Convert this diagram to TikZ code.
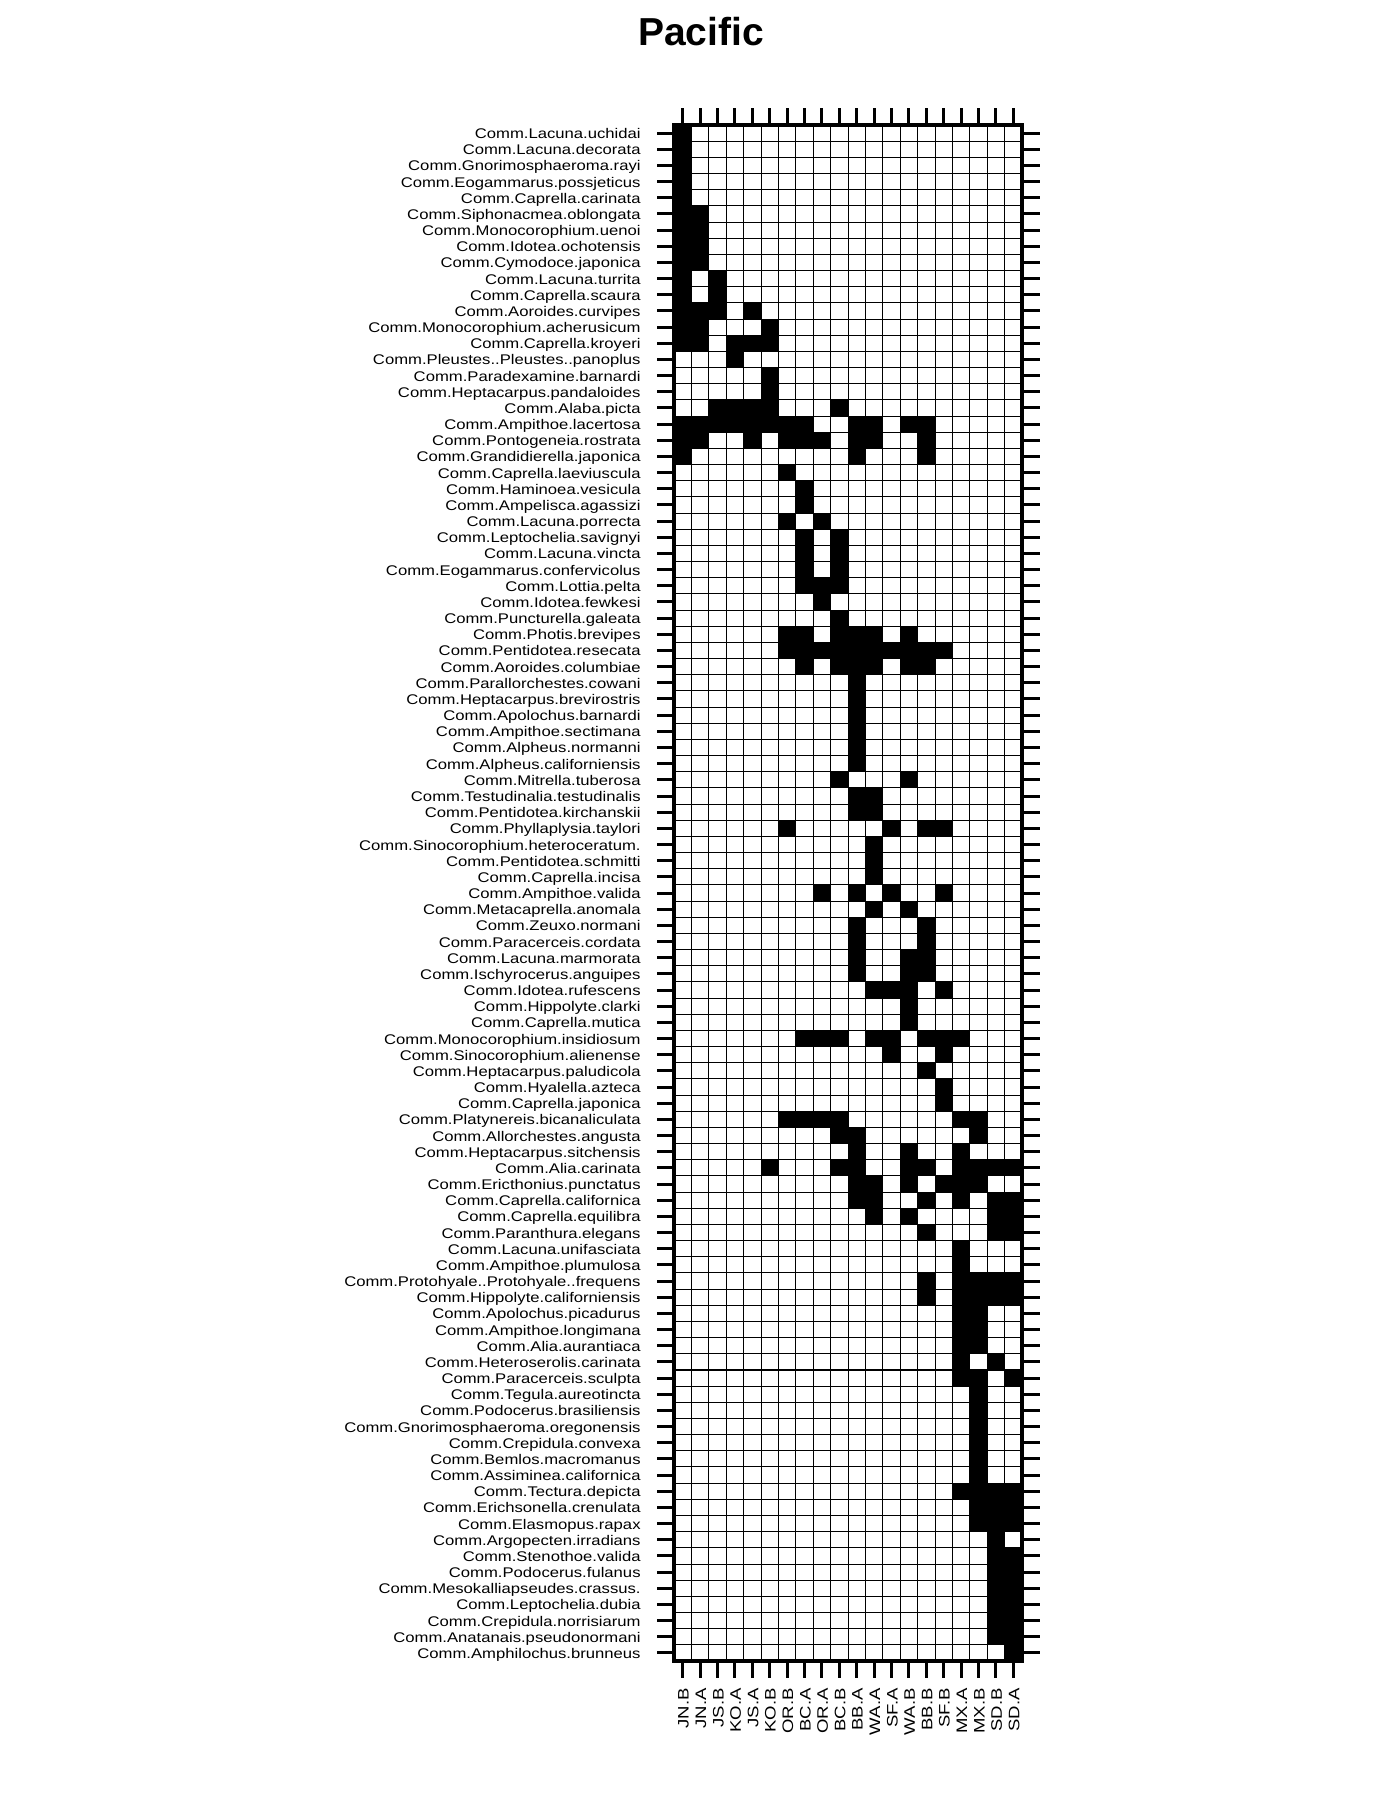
\documentclass[tikz,border=0pt]{standalone}
\usepackage{fontspec}
\setmainfont{Liberation Sans}
\newfontfamily\labfont[FakeStretch=1.19]{Liberation Sans}
\newfontfamily\collabfont[FakeStretch=1.22]{Liberation Sans}
\newcommand\sprow[3]{%
  \node[rowlab] (lab#1) at (641,{125+(#1-0.5)*16.1684+5.5}) {#2};
  \foreach \c in {#3}{\fill[black] ({674+(\c-1)*17.4},{125+(#1-1)*16.1684}) rectangle ++(17.4,16.1684);}%
}
\newcommand\spcol[2]{%
  \node[collab] (col#1) at ({674+(#1-0.5)*17.4+6},1688) {#2};
}
\begin{document}
\begin{tikzpicture}[x=0.5pt,y=-0.5pt,
  rowlab/.style={anchor=base east,inner sep=0pt,font=\labfont\fontsize{7}{8}\selectfont},
  collab/.style={anchor=base east,rotate=90,inner sep=0pt,font=\collabfont\fontsize{7.6}{8}\selectfont},
  gridline/.style={line width=0.5pt,black},
  frameline/.style={line width=1.6pt,black},
  tickline/.style={line width=1.5pt,black}]
\fill[white] (0,0) rectangle (1400,1800);
\useasboundingbox (0,0) rectangle (1400,1800);
\node[anchor=base,inner sep=0pt,font=\fontsize{19.5}{23}\selectfont\bfseries] (title) at (701,45) {Pacific};
\sprow{1}{Comm.Lacuna.uchidai}{1}
\sprow{2}{Comm.Lacuna.decorata}{1}
\sprow{3}{Comm.Gnorimosphaeroma.rayi}{1}
\sprow{4}{Comm.Eogammarus.possjeticus}{1}
\sprow{5}{Comm.Caprella.carinata}{1}
\sprow{6}{Comm.Siphonacmea.oblongata}{1,2}
\sprow{7}{Comm.Monocorophium.uenoi}{1,2}
\sprow{8}{Comm.Idotea.ochotensis}{1,2}
\sprow{9}{Comm.Cymodoce.japonica}{1,2}
\sprow{10}{Comm.Lacuna.turrita}{1,3}
\sprow{11}{Comm.Caprella.scaura}{1,3}
\sprow{12}{Comm.Aoroides.curvipes}{1,2,3,5}
\sprow{13}{Comm.Monocorophium.acherusicum}{1,2,6}
\sprow{14}{Comm.Caprella.kroyeri}{1,2,4,5,6}
\sprow{15}{Comm.Pleustes..Pleustes..panoplus}{4}
\sprow{16}{Comm.Paradexamine.barnardi}{6}
\sprow{17}{Comm.Heptacarpus.pandaloides}{6}
\sprow{18}{Comm.Alaba.picta}{3,4,5,6,10}
\sprow{19}{Comm.Ampithoe.lacertosa}{1,2,3,4,5,6,7,8,11,12,14,15}
\sprow{20}{Comm.Pontogeneia.rostrata}{1,2,5,7,8,9,11,12,15}
\sprow{21}{Comm.Grandidierella.japonica}{1,11,15}
\sprow{22}{Comm.Caprella.laeviuscula}{7}
\sprow{23}{Comm.Haminoea.vesicula}{8}
\sprow{24}{Comm.Ampelisca.agassizi}{8}
\sprow{25}{Comm.Lacuna.porrecta}{7,9}
\sprow{26}{Comm.Leptochelia.savignyi}{8,10}
\sprow{27}{Comm.Lacuna.vincta}{8,10}
\sprow{28}{Comm.Eogammarus.confervicolus}{8,10}
\sprow{29}{Comm.Lottia.pelta}{8,9,10}
\sprow{30}{Comm.Idotea.fewkesi}{9}
\sprow{31}{Comm.Puncturella.galeata}{10}
\sprow{32}{Comm.Photis.brevipes}{7,8,10,11,12,14}
\sprow{33}{Comm.Pentidotea.resecata}{7,8,9,10,11,12,13,14,15,16}
\sprow{34}{Comm.Aoroides.columbiae}{8,10,11,12,14,15}
\sprow{35}{Comm.Parallorchestes.cowani}{11}
\sprow{36}{Comm.Heptacarpus.brevirostris}{11}
\sprow{37}{Comm.Apolochus.barnardi}{11}
\sprow{38}{Comm.Ampithoe.sectimana}{11}
\sprow{39}{Comm.Alpheus.normanni}{11}
\sprow{40}{Comm.Alpheus.californiensis}{11}
\sprow{41}{Comm.Mitrella.tuberosa}{10,14}
\sprow{42}{Comm.Testudinalia.testudinalis}{11,12}
\sprow{43}{Comm.Pentidotea.kirchanskii}{11,12}
\sprow{44}{Comm.Phyllaplysia.taylori}{7,13,15,16}
\sprow{45}{Comm.Sinocorophium.heteroceratum.}{12}
\sprow{46}{Comm.Pentidotea.schmitti}{12}
\sprow{47}{Comm.Caprella.incisa}{12}
\sprow{48}{Comm.Ampithoe.valida}{9,11,13,16}
\sprow{49}{Comm.Metacaprella.anomala}{12,14}
\sprow{50}{Comm.Zeuxo.normani}{11,15}
\sprow{51}{Comm.Paracerceis.cordata}{11,15}
\sprow{52}{Comm.Lacuna.marmorata}{11,14,15}
\sprow{53}{Comm.Ischyrocerus.anguipes}{11,14,15}
\sprow{54}{Comm.Idotea.rufescens}{12,13,14,16}
\sprow{55}{Comm.Hippolyte.clarki}{14}
\sprow{56}{Comm.Caprella.mutica}{14}
\sprow{57}{Comm.Monocorophium.insidiosum}{8,9,10,12,13,15,16,17}
\sprow{58}{Comm.Sinocorophium.alienense}{13,16}
\sprow{59}{Comm.Heptacarpus.paludicola}{15}
\sprow{60}{Comm.Hyalella.azteca}{16}
\sprow{61}{Comm.Caprella.japonica}{16}
\sprow{62}{Comm.Platynereis.bicanaliculata}{7,8,9,10,17,18}
\sprow{63}{Comm.Allorchestes.angusta}{10,11,18}
\sprow{64}{Comm.Heptacarpus.sitchensis}{11,14,17}
\sprow{65}{Comm.Alia.carinata}{6,10,11,14,15,17,18,19,20}
\sprow{66}{Comm.Ericthonius.punctatus}{11,12,14,16,17,18}
\sprow{67}{Comm.Caprella.californica}{11,12,15,17,19,20}
\sprow{68}{Comm.Caprella.equilibra}{12,14,19,20}
\sprow{69}{Comm.Paranthura.elegans}{15,19,20}
\sprow{70}{Comm.Lacuna.unifasciata}{17}
\sprow{71}{Comm.Ampithoe.plumulosa}{17}
\sprow{72}{Comm.Protohyale..Protohyale..frequens}{15,17,18,19,20}
\sprow{73}{Comm.Hippolyte.californiensis}{15,17,18,19,20}
\sprow{74}{Comm.Apolochus.picadurus}{17,18}
\sprow{75}{Comm.Ampithoe.longimana}{17,18}
\sprow{76}{Comm.Alia.aurantiaca}{17,18}
\sprow{77}{Comm.Heteroserolis.carinata}{17,19}
\sprow{78}{Comm.Paracerceis.sculpta}{17,18,20}
\sprow{79}{Comm.Tegula.aureotincta}{18}
\sprow{80}{Comm.Podocerus.brasiliensis}{18}
\sprow{81}{Comm.Gnorimosphaeroma.oregonensis}{18}
\sprow{82}{Comm.Crepidula.convexa}{18}
\sprow{83}{Comm.Bemlos.macromanus}{18}
\sprow{84}{Comm.Assiminea.californica}{18}
\sprow{85}{Comm.Tectura.depicta}{17,18,19,20}
\sprow{86}{Comm.Erichsonella.crenulata}{18,19,20}
\sprow{87}{Comm.Elasmopus.rapax}{18,19,20}
\sprow{88}{Comm.Argopecten.irradians}{19}
\sprow{89}{Comm.Stenothoe.valida}{19,20}
\sprow{90}{Comm.Podocerus.fulanus}{19,20}
\sprow{91}{Comm.Mesokalliapseudes.crassus.}{19,20}
\sprow{92}{Comm.Leptochelia.dubia}{19,20}
\sprow{93}{Comm.Crepidula.norrisiarum}{19,20}
\sprow{94}{Comm.Anatanais.pseudonormani}{19,20}
\sprow{95}{Comm.Amphilochus.brunneus}{20}
% grid
\foreach \c in {1,...,19}{\draw[gridline] ({674+\c*17.4},125) -- ({674+\c*17.4},1661);}
\foreach \r in {1,...,94}{\draw[gridline] (674,{125+\r*16.1684}) -- (1022,{125+\r*16.1684});}
\draw[line width=1.1pt] (674,{125+77*16.1684}) -- (1022,{125+77*16.1684});
% frame
\draw[frameline] (674,125) rectangle (1022,1661);
% ticks
\foreach \r in {1,...,95}{
  \draw[tickline] (657,{125+(\r-0.5)*16.1684}) -- (674,{125+(\r-0.5)*16.1684});
  \draw[tickline] (1022,{125+(\r-0.5)*16.1684}) -- (1040,{125+(\r-0.5)*16.1684});
}
\foreach \c in {1,...,20}{
  \draw[tickline] ({674+(\c-0.5)*17.4},108) -- ({674+(\c-0.5)*17.4},125);
  \draw[tickline] ({674+(\c-0.5)*17.4},1661) -- ({674+(\c-0.5)*17.4},1678);
}
% column labels
\spcol{1}{JN.B}
\spcol{2}{JN.A}
\spcol{3}{JS.B}
\spcol{4}{KO.A}
\spcol{5}{JS.A}
\spcol{6}{KO.B}
\spcol{7}{OR.B}
\spcol{8}{BC.A}
\spcol{9}{OR.A}
\spcol{10}{BC.B}
\spcol{11}{BB.A}
\spcol{12}{WA.A}
\spcol{13}{SF.A}
\spcol{14}{WA.B}
\spcol{15}{BB.B}
\spcol{16}{SF.B}
\spcol{17}{MX.A}
\spcol{18}{MX.B}
\spcol{19}{SD.B}
\spcol{20}{SD.A}
\end{tikzpicture}
\end{document}
